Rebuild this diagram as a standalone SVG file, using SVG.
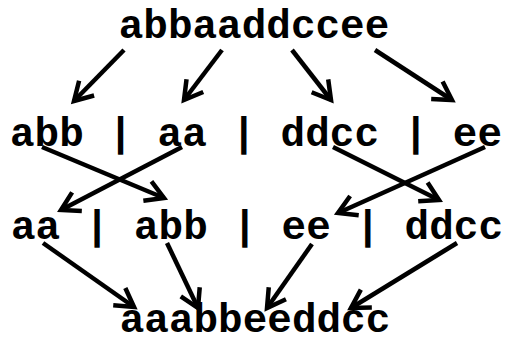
<svg xmlns="http://www.w3.org/2000/svg" width="507" height="338" viewBox="0 0 507 338">
  <style>
    .edge { stroke: #000; stroke-width: 4.5; fill: none; marker-end: url(#vee); }
  </style>
  <defs>
    <marker id="vee" markerUnits="userSpaceOnUse" viewBox="-25 -15 30 30" markerWidth="30" markerHeight="30" refX="0" refY="0" orient="auto">
      <path d="M-18,-10.5 L0,0 L-18,10.5" fill="none" stroke="#000" stroke-width="4.5" stroke-linejoin="miter"/>
    </marker>
  </defs>
  <rect width="507" height="338" fill="#fff"/>

  <g id="n-input">
    <text x="254" y="38" font-family="Liberation Mono" font-weight="bold" font-size="41" text-anchor="middle">abbaaddccee</text>
  </g>
  <g id="n-split">
    <text x="256" y="146" font-family="Liberation Mono" font-weight="bold" font-size="41" text-anchor="middle" xml:space="preserve">abb | aa | ddcc | ee</text>
  </g>
  <g id="n-swap">
    <text x="257" y="239" font-family="Liberation Mono" font-weight="bold" font-size="41" text-anchor="middle" xml:space="preserve">aa | abb | ee | ddcc</text>
  </g>
  <g id="n-output">
    <text x="255" y="332" font-family="Liberation Mono" font-weight="bold" font-size="41" text-anchor="middle">aaabbeeddcc</text>
  </g>

  <g id="connectors">
    <line class="edge" x1="124" y1="50" x2="74" y2="101"/>
    <line class="edge" x1="222" y1="50" x2="184" y2="100"/>
    <line class="edge" x1="292" y1="50" x2="331" y2="100"/>
    <line class="edge" x1="375" y1="50" x2="452" y2="100"/>

    <line class="edge" x1="42" y1="147" x2="164" y2="198"/>
    <line class="edge" x1="182" y1="147" x2="61" y2="210"/>
    <line class="edge" x1="333" y1="147" x2="439" y2="200"/>
    <line class="edge" x1="485" y1="147" x2="338" y2="213"/>

    <line class="edge" x1="43" y1="243" x2="134" y2="307"/>
    <line class="edge" x1="167" y1="243" x2="198" y2="308"/>
    <line class="edge" x1="312" y1="244" x2="267" y2="308"/>
    <line class="edge" x1="457" y1="243" x2="351" y2="308"/>
  </g>
</svg>
